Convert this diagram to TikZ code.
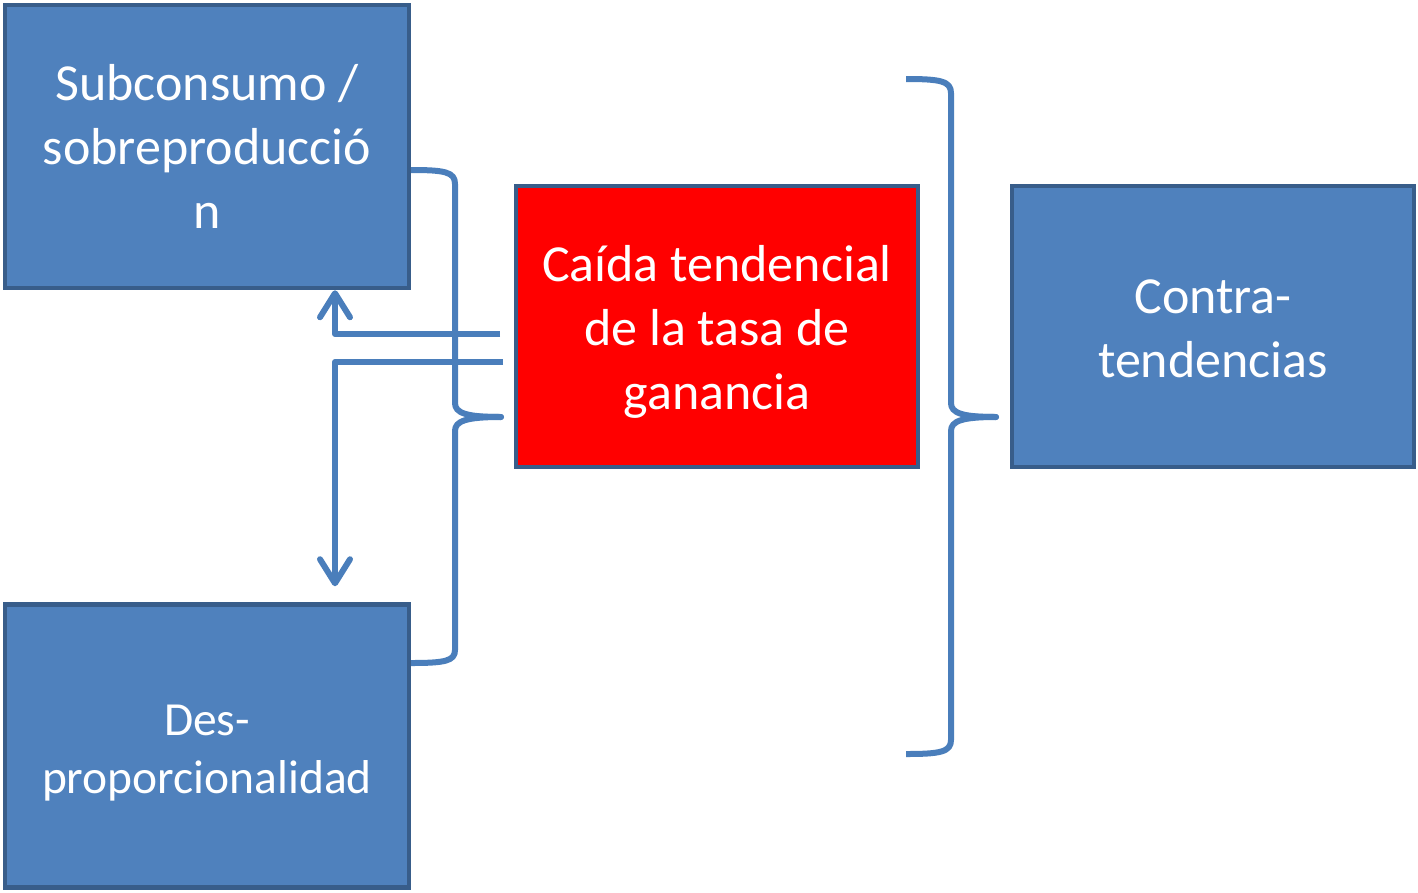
\documentclass[tikz,border=0pt]{standalone}
\usepackage{fontspec}
\setmainfont{Carlito}
\usetikzlibrary{arrows.meta,calc}
\definecolor{boxfill}{HTML}{4F81BD}
\definecolor{boxline}{HTML}{385D8A}
\definecolor{connc}{HTML}{4A7EBB}
\begin{document}
\begin{tikzpicture}[x=1pt,y=-1pt,
  box/.style={draw=boxline, fill=boxfill, line width=4.5pt, minimum width=404pt, minimum height=283pt,
    inner sep=0pt},
  txt/.style={inner sep=0pt, text=white, align=center, font=\fontsize{52}{64}\selectfont},
  conn/.style={draw=connc, line width=6pt, line join=round},
  barb/.style={-{Straight Barb[length=24pt, width=30pt, round]}}]
\useasboundingbox (0,0) rectangle (1418,892);
% boxes
\node[box] (sub) at (207,146.5) {};
\node[box] (des) at (207,746) {};
\node[box, fill=red, minimum width=402pt, minimum height=281pt] (cai) at (717,326.5) {};
\node[box, minimum width=402pt, minimum height=281pt] (con) at (1213,326.5) {};
% texts
\node[txt] (subT) at ($(sub.center)+(0,0)$) {Subconsumo /\\sobreproducció\\n};
\node[txt, font=\fontsize{47.5}{58}\selectfont] (desT) at ($(des.center)+(0,7)$) {Des-\\proporcionalidad};
\node[txt] (caiT) at ($(cai.center)+(0,5)$) {Caída tendencial\\de la tasa de\\ganancia};
\node[txt] (conT) at ($(con.center)+(0,2.5)$) {Contra-\\tendencias};
% left brace
\coordinate (lbt) at (411,170);
\coordinate (lbtip) at (501,417);
\coordinate (lbb) at (411,663);
\draw[conn] (lbt) .. controls (445,170) and (455,172) .. (455,184) -- (455,403)
  .. controls (455,413) and (466,417) .. (lbtip)
  .. controls (466,417) and (455,421) .. (455,431) -- (455,650)
  .. controls (455,661) and (445,663) .. (lbb);
\draw[conn, line cap=round] (470,416.6) -- (lbtip);
% right brace
\coordinate (rbt) at (906,79);
\coordinate (rbtip) at (996,417);
\coordinate (rbb) at (906,754);
\draw[conn] (rbt) .. controls (940,79) and (951,81) .. (951,93) -- (951,403)
  .. controls (951,413) and (962,417) .. (rbtip)
  .. controls (962,417) and (951,421) .. (951,431) -- (951,740)
  .. controls (951,752) and (940,754) .. (rbb);
\draw[conn, line cap=round] (966,416.6) -- (rbtip);
% arrows
\coordinate (ax) at (335,0);
\coordinate (a1s) at (500,334);
\coordinate (a2s) at (503,362);
\draw[conn, barb] (a1s) -| (ax |- sub.south);
\draw[conn, barb] (a2s) -| ($(ax |- des.north)+(0,-16)$);
\end{tikzpicture}
\end{document}
